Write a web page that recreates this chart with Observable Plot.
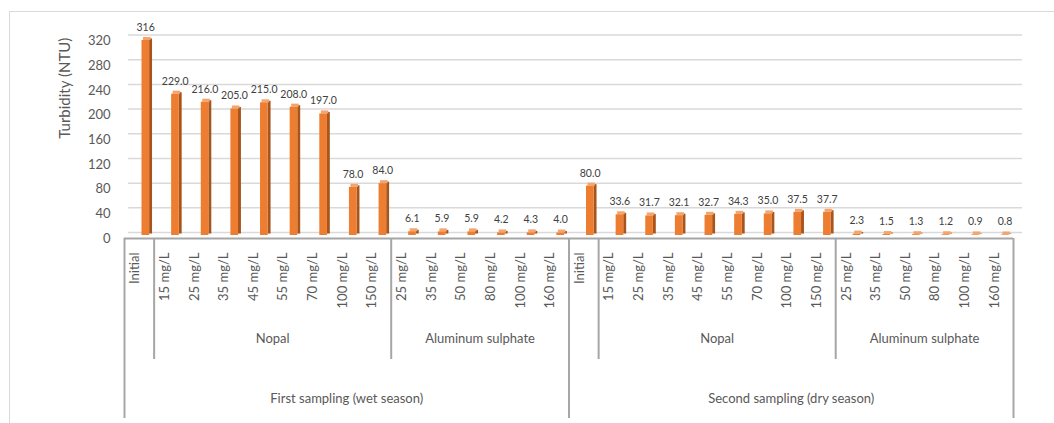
<!DOCTYPE html>
<html>
<head>
<meta charset="utf-8">
<script src="https://cdn.jsdelivr.net/npm/d3@7"></script>
<script src="https://cdn.jsdelivr.net/npm/@observablehq/plot@0.6"></script>
<style>
  body { margin: 0; background: #fff; }
  #chart svg { display: block; }
</style>
</head>
<body>
<div id="chart"></div>
<script>
// Turbidity after coagulation tests, two sampling campaigns
const samplings = ["First sampling (wet season)", "Second sampling (dry season)"];
const treatments = ["Nopal", "Aluminum sulphate"];
const initialLabel = "Initial";
const nopalDoses = ["15 mg/L", "25 mg/L", "35 mg/L", "45 mg/L", "55 mg/L", "70 mg/L", "100 mg/L", "150 mg/L"];
const alumDoses = ["25 mg/L", "35 mg/L", "50 mg/L", "80 mg/L", "100 mg/L", "160 mg/L"];

const wetInitial = 316;
const wetNopal = [229.0, 216.0, 205.0, 215.0, 208.0, 197.0, 78.0, 84.0];
const wetAlum = [6.1, 5.9, 5.9, 4.2, 4.3, 4.0];

const dryInitial = 80.0;
const dryNopal = [33.6, 31.7, 32.1, 32.7, 34.3, 35.0, 37.5, 37.7];
const dryAlum = [2.3, 1.5, 1.3, 1.2, 0.9, 0.8];

// decimals shown on the initial-turbidity label of each sampling
const initialDecimals = [0, 1];

const yTicks = [0, 40, 80, 120, 160, 200, 240, 280, 320];
const yLabel = "Turbidity (NTU)";

// ---- build the flat table: one slot per column ----
const series = [
  {initial: wetInitial, nopal: wetNopal, alum: wetAlum},
  {initial: dryInitial, nopal: dryNopal, alum: dryAlum}
];
const rows = [];
const treatmentSpans = [];
const samplingSpans = [];
const shortBounds = [];
const longBounds = [0];
let slot = 0;
series.forEach((s, si) => {
  const start = slot;
  rows.push({pos: slot++, dose: initialLabel, value: s.initial,
             label: s.initial.toFixed(initialDecimals[si])});
  shortBounds.push(slot);
  [[treatments[0], nopalDoses, s.nopal], [treatments[1], alumDoses, s.alum]].forEach(([name, doses, vals], ti) => {
    const tStart = slot;
    doses.forEach((d, i) => rows.push({pos: slot++, dose: d, value: vals[i], label: vals[i].toFixed(1)}));
    treatmentSpans.push({name, mid: (tStart + slot) / 2});
    if (ti === 0) shortBounds.push(slot);
  });
  samplingSpans.push({name: samplings[si], mid: (start + slot) / 2});
  longBounds.push(slot);
});
const nSlots = slot;

const font = "Lato, 'Open Sans', sans-serif";
const axisGray = "#595959";
const lineGray = "#A6A6A6";
const gridGray = "#D9D9D9";
const frontFill = "#ED7D31";
const sideFill = "#A8551C";
const topFill = "#F4A56E";

const chart = Plot.plot({
  width: 1054,
  height: 423,
  marginLeft: 124,
  marginRight: 41,
  marginTop: 37.5,
  marginBottom: 188,
  style: {fontFamily: font, background: "#fff"},
  x: {domain: [0, nSlots], axis: null},
  y: {domain: [0, 320], axis: null},
  marks: [
    // chart area border
    Plot.frame({stroke: gridGray, strokeWidth: 1, insetLeft: -115, insetTop: -26.5, insetRight: -80, insetBottom: -240}),
    // back-wall gridlines
    Plot.ruleY(yTicks, {y: d => d, dy: -3, insetLeft: 4, insetRight: -9, stroke: gridGray, strokeWidth: 1.5}),
    // column side faces
    Plot.rect(rows, {x1: "pos", x2: d => d.pos + 1, y1: () => 0, y2: "value",
      insetLeft: 25.1, insetRight: 1.6, dy: -1.5, fill: sideFill}),
    // column top faces
    Plot.rect(rows, {x1: "pos", x2: d => d.pos + 1, y1: "value", y2: "value",
      insetLeft: 19, insetRight: 3.1, insetTop: -3, fill: topFill}),
    // column front faces
    Plot.rect(rows, {x1: "pos", x2: d => d.pos + 1, y1: () => 0, y2: "value",
      insetLeft: 17.5, insetRight: 4.5, fill: frontFill}),
    // value labels
    Plot.text(rows, {x: d => d.pos + 0.5, y: "value", text: "label", dx: 6.3, dy: -13,
      fontSize: 10.5, fill: "#404040"}),
    // category axis baseline
    Plot.ruleY([0], {dy: 3, stroke: lineGray, strokeWidth: 2}),
    // group separators
    Plot.ruleX(longBounds, {x: d => d, insetTop: 200.5, insetBottom: -183, stroke: lineGray, strokeWidth: 2}),
    Plot.ruleX(shortBounds, {x: d => d, insetTop: 200.5, insetBottom: -124, stroke: lineGray, strokeWidth: 2}),
    // dose labels
    Plot.text(rows, {x: d => d.pos + 0.5, text: "dose", frameAnchor: "bottom", dy: 17,
      rotate: -90, textAnchor: "end", fontSize: 13, fill: axisGray}),
    // treatment labels
    Plot.text(treatmentSpans, {x: "mid", text: "name", frameAnchor: "bottom", dy: 107,
      fontSize: 13, fill: axisGray}),
    // sampling labels
    Plot.text(samplingSpans, {x: "mid", text: "name", frameAnchor: "bottom", dy: 167,
      fontSize: 13, fill: axisGray}),
    // y tick labels
    Plot.text(yTicks, {y: d => d, text: d => String(d), frameAnchor: "left", dx: -14, dy: 3,
      textAnchor: "end", fontSize: 13, fill: axisGray}),
    // y axis title
    Plot.text([yLabel], {frameAnchor: "left", dx: -59, dy: 2, rotate: -90, text: d => d,
      fontSize: 15, fill: axisGray})
  ]
});
document.getElementById("chart").append(chart);
</script>
</body>
</html>
